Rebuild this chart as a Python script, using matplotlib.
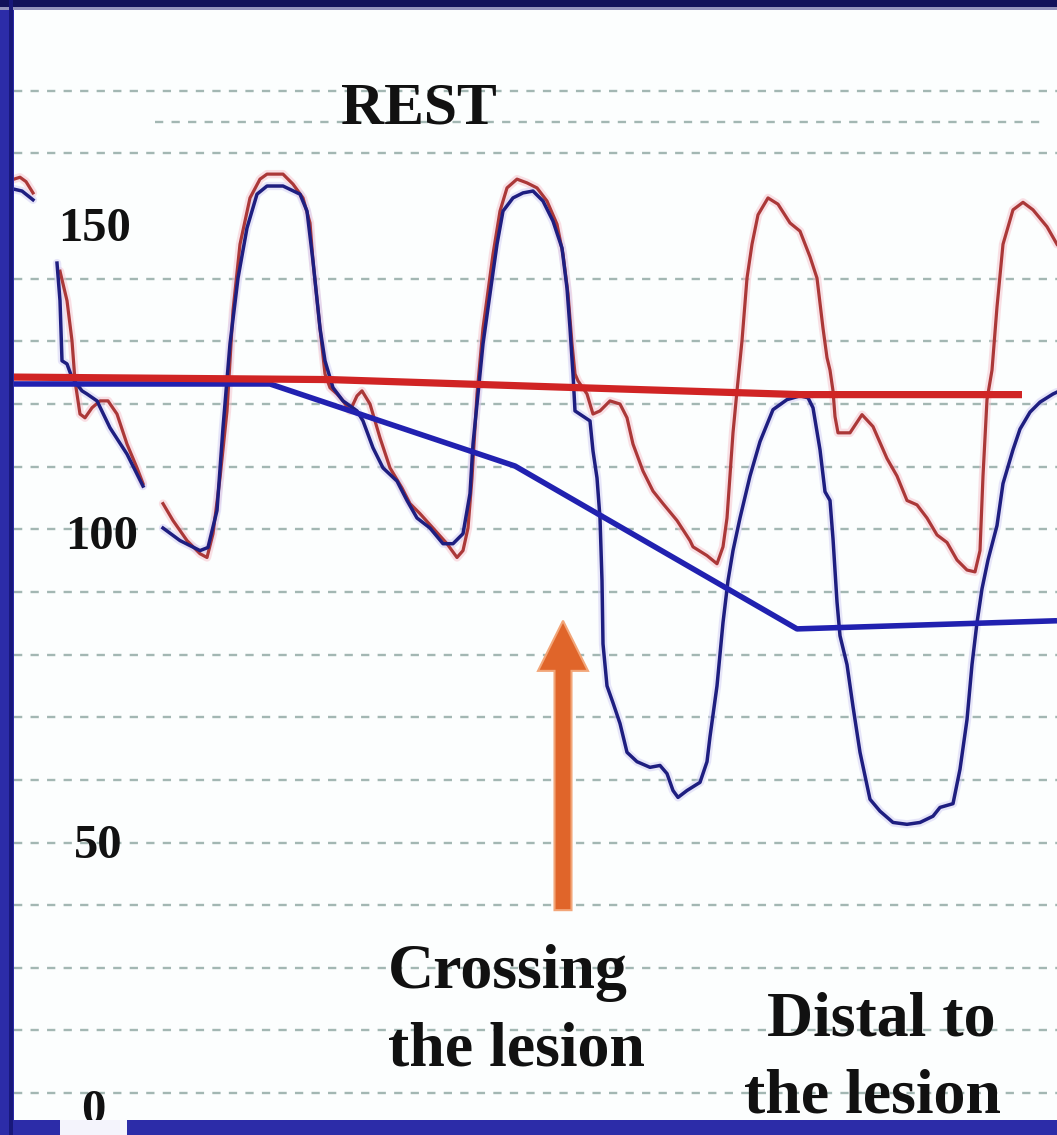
import numpy as np
import matplotlib
matplotlib.use('Agg')
import matplotlib.pyplot as plt
from matplotlib.patches import Rectangle, FancyArrow

plt.rcParams['font.family'] = ['Liberation Serif', 'DejaVu Serif']

nan = np.nan

# time in ms, pressure in mmHg; nan breaks the trace where the recording drops out
aortic_t = [56, 80, 104, 132, nan,
            240, 268, 288, 300, 320, 340, 368, 400, 432, 468, 508, 548, 572, nan,
            652, 692, 748, 800, 828, 852, 880, 908, 932, 960, 1000, 1040, 1068, 1132,
            1172, 1212, 1240, 1252, 1280, 1300, 1320, 1348, 1372, 1400, 1428, 1448,
            1480, 1520, 1560, 1608, 1640, 1680, 1732, 1788, 1828, 1852, 1872, 1888,
            1908, 1932, 1972, 2000, 2028, 2068, 2108, 2148, 2188, 2228, 2252, 2272,
            2288, 2300, 2312, 2348, 2372, 2400, 2440, 2480, 2508, 2532, 2572, 2612,
            2652, 2708, 2760, 2772, 2828, 2868, 2892, 2908, 2920, 2932, 2948, 2968,
            2988, 3008, 3032, 3072, 3112, 3160, 3200, 3240, 3268, 3292, 3308, 3320,
            3332, 3340, 3352, 3400, 3448, 3492, 3548, 3588, 3628, 3668, 3708, 3748,
            3788, 3828, 3868, 3900, 3920, 3932, 3948, 3968, 3988, 4012, 4052, 4092,
            4132, 4188, 4228]
aortic_p = [155.9, 156.2, 155.5, 153.7, nan,
            141.2, 136.5, 130.1, 123.7, 118.4, 117.8, 119.4, 120.5, 120.5, 118.4, 113.6, 109.8, 107.3, nan,
            104.1, 101.4, 98.2, 96.1, 95.5, 99.3, 108.2, 118.9, 134.9, 145.5, 152.9, 155.9, 156.7, 156.7,
            155.1, 152.9, 148.9, 142.8, 132.1, 124.8, 122.6, 121.6, 120.5, 118.9, 121.3, 122.1,
            120.0, 114.6, 109.8, 106.6, 104.1, 102.5, 100.2, 97.7, 95.5, 96.6, 100.2, 108.2,
            121.6, 132.1, 143.9, 150.8, 154.5, 155.9, 155.3, 154.5, 152.4, 148.7, 143.9, 137.6,
            129.6, 124.8, 123.7, 121.6, 118.4, 118.9, 120.5, 120.0, 117.8, 113.6, 109.3, 106.1,
            104.1, 101.4, 98.2, 97.2, 95.8, 94.5, 97.2, 101.8, 108.5, 115.4, 122.1, 130.1,
            140.1, 145.5, 150.2, 152.9, 151.9, 148.9, 147.6, 143.5, 140.1, 132.1, 127.4, 125.4,
            122.1, 118.0, 115.4, 115.4, 118.3, 116.4, 111.3, 108.5, 104.6, 103.9, 101.8, 99.1,
            97.9, 95.1, 93.5, 93.2, 96.6, 108.5, 120.7, 125.4, 135.5, 145.5, 151.0, 152.2,
            151.0, 148.3, 145.5]

distal_t = [56, 88, 132, nan,
            228, 240, 248, 268, 288, 328, 348, 388, 440, 508, 572, nan,
            652, 720, 800, 832, 868, 892, 920, 952, 988, 1028, 1068, 1132, 1200, 1228,
            1252, 1280, 1300, 1332, 1372, 1428, 1452, 1492, 1532, 1588, 1628, 1668,
            1720, 1772, 1812, 1852, 1880, 1892, 1912, 1932, 1960, 1988, 2012, 2052,
            2092, 2132, 2172, 2212, 2248, 2268, 2280, 2292, 2300, 2360, 2372, 2388,
            2400, 2408, 2412, 2428, 2452, 2480, 2508, 2548, 2600, 2640, 2668, 2692,
            2712, 2748, 2800, 2828, 2840, 2868, 2892, 2912, 2932, 2960, 3000, 3040,
            3092, 3148, 3200, 3232, 3252, 3280, 3300, 3320, 3332, 3348, 3360, 3388,
            3412, 3440, 3480, 3520, 3572, 3628, 3680, 3732, 3760, 3812, 3840, 3868,
            3888, 3908, 3928, 3952, 3988, 4012, 4052, 4080, 4120, 4160, 4212, 4228]
distal_p = [154.3, 154.0, 152.6, nan,
            142.5, 136.5, 126.9, 126.4, 124.2, 122.1, 121.6, 120.5, 116.2, 112.0, 106.9, nan,
            100.2, 98.2, 96.6, 97.1, 103.0, 116.2, 129.6, 140.1, 148.1, 153.5, 154.8, 154.8, 153.5, 150.8,
            142.8, 132.1, 126.9, 122.6, 120.5, 118.9, 117.3, 113.0, 109.8, 107.7, 104.6, 101.8,
            100.2, 97.7, 97.7, 99.3, 105.7, 113.6, 121.6, 129.6, 137.6, 145.5, 150.8, 152.9,
            153.7, 154.0, 152.4, 149.2, 144.9, 138.5, 132.1, 124.8, 118.9, 117.3, 112.5, 108.2,
            101.8, 91.8, 81.7, 75.0, 72.3, 69.0, 64.4, 62.9, 62.0, 62.3, 61.0, 58.3,
            57.2, 58.3, 59.6, 62.9, 66.9, 75.0, 85.1, 91.8, 96.6, 101.8, 108.5, 114.0,
            119.1, 120.7, 121.3, 121.0, 119.4, 112.7, 106.0, 104.6, 98.5, 88.4, 83.0, 78.4,
            71.7, 64.4, 56.9, 55.0, 53.2, 52.9, 53.2, 54.2, 55.6, 56.2, 61.7, 69.6,
            78.4, 85.1, 90.5, 95.1, 100.6, 107.3, 112.7, 116.0, 118.7, 120.3, 121.6, 121.9]

# running mean pressures
aortic_mean_t = [56, 1320, 2240, 3200, 4088]
aortic_mean_p = [124.3, 123.9, 122.7, 121.5, 121.5]
distal_mean_t = [56, 1080, 2060, 3188, 4228]
distal_mean_p = [123.2, 123.2, 110.1, 84.1, 85.4]

grid_levels = [10, 20, 30, 40, 50, 60, 70, 80, 90, 100, 110, 120, 130, 140, 160, 170]
tick_values = [150, 100, 50, 0]
tick_pos = [(380, 146.0), (408, 96.9), (392, 47.5), (372, 5.2)]

W, H = 1057, 1135
fig = plt.figure(figsize=(W / 100, H / 100), dpi=100, facecolor='#2c2ca8')

# slide frame
fig.add_artist(Rectangle((0, 1 - 7 / H), 1, 7 / H, transform=fig.transFigure,
                         facecolor='#12125a', edgecolor='none'))
fig.add_artist(Rectangle((0, 1 - 10 / H), 1, 3 / H, transform=fig.transFigure,
                         facecolor='#9494bc', edgecolor='none'))
fig.add_artist(Rectangle((9 / W, 0), 4 / W, 1, transform=fig.transFigure,
                         facecolor='#18187a', edgecolor='none'))
fig.add_artist(Rectangle((60 / W, 0), 67 / W, 15 / H, transform=fig.transFigure,
                         facecolor='#f4f4fc', edgecolor='none'))

ax = fig.add_axes([14 / W, 15 / H, 1 - 14 / W, (H - 15 - 10) / H])
ax.set_facecolor('#fcfefe')
ax.set_xlim(56, 4228)
ax.set_ylim(5.7, 182.9)
ax.set_xticks([])
ax.set_yticks([])
for sp in ax.spines.values():
    sp.set_visible(False)

grid_kw = dict(color='#a3b7b3', lw=1.7, ls=(0, (3.5, 3.5)), zorder=1)
for lev in grid_levels:
    ax.axhline(lev, **grid_kw)
ax.plot([620, 4160], [165, 165], **grid_kw)

# soft halos under the traces
ax.plot(aortic_t, aortic_p, color='#f6c2cc', lw=6, alpha=0.5, zorder=2, solid_capstyle='round')
ax.plot(distal_t, distal_p, color='#d2cef4', lw=6, alpha=0.5, zorder=2, solid_capstyle='round')

ax.plot(aortic_t, aortic_p, color='#ab3838', lw=2.3, zorder=3)
ax.plot(distal_t, distal_p, color='#1e1e80', lw=2.5, zorder=4)

ax.plot(distal_mean_t, distal_mean_p, color='#2121b0', lw=4.0, zorder=5, solid_capstyle='butt')
ax.plot(aortic_mean_t, aortic_mean_p, color='#d02424', lw=5.2, zorder=6, solid_capstyle='butt')

for val, (x, y) in zip(tick_values, tick_pos):
    ax.text(x, y, str(val), ha='center', va='baseline', fontsize=35,
            fontweight='bold', color='#111111', zorder=8, clip_on=False)

ax.text(1676, 164.8, 'REST', ha='center', va='baseline', fontsize=43,
        fontweight='bold', color='#111111', zorder=8)
ax.text(2032, 26.7, 'Crossing', ha='center', va='baseline', fontsize=46,
        fontweight='bold', color='#111111', zorder=8)
ax.text(2064, 14.4, 'the lesion', ha='center', va='baseline', fontsize=46,
        fontweight='bold', color='#111111', zorder=8)
ax.text(3524, 19.2, 'Distal to', ha='center', va='baseline', fontsize=46,
        fontweight='bold', color='#111111', zorder=8)
ax.text(3488, 6.9, 'the lesion', ha='center', va='baseline', fontsize=46,
        fontweight='bold', color='#111111', zorder=8, clip_on=False)

arrow = FancyArrow(2252, 39.2, 0, 46.2, width=68, head_width=200, head_length=8.0,
                   length_includes_head=True, facecolor='#e0652a',
                   edgecolor='#f2a679', lw=1.5, zorder=7)
ax.add_patch(arrow)

fig.savefig('out.png', dpi=100, facecolor=fig.get_facecolor())
